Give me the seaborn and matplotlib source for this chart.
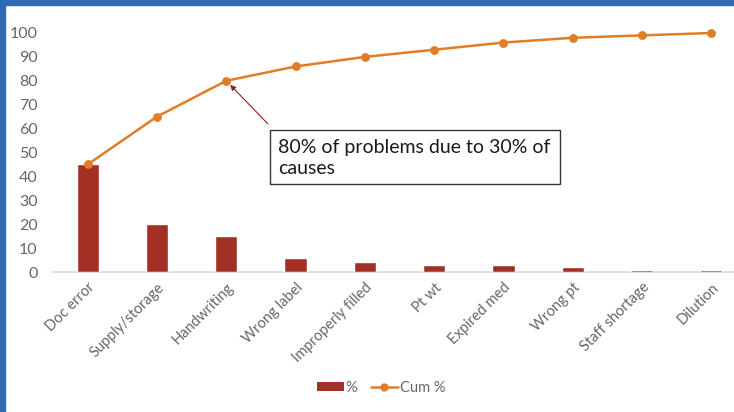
import matplotlib
matplotlib.use("Agg")
import matplotlib.pyplot as plt
import seaborn as sns
import pandas as pd
from matplotlib.patches import Patch, Rectangle
from matplotlib.lines import Line2D

categories = ["Doc error", "Supply/storage", "Handwriting", "Wrong label", "Improperly filled",
              "Pt wt", "Expired med", "Wrong pt", "Staff shortage", "Dilution"]
pct = [45, 20, 15, 6, 4, 3, 3, 2, 1, 1]
cum_pct = [45, 65, 80, 86, 90, 93, 96, 98, 99, 100]
yticks = [0, 10, 20, 30, 40, 50, 60, 70, 80, 90, 100]

sns.set_theme(style="white")
plt.rcParams['font.family'] = ['Lato', 'DejaVu Sans']

BAR = "#A33025"
LINE = "#E07D27"
GRAY = "#666666"

df = pd.DataFrame({"cat": categories, "pct": pct, "cum": cum_pct})

fig = plt.figure(figsize=(7.34, 4.12), dpi=100)
W, H = 734, 412
ax = fig.add_axes([53 / W, (H - 272) / H, (746 - 53) / W, (272 - 33) / H])

sns.barplot(data=df, x="cat", y="pct", color=BAR, width=0.32, saturation=1, ax=ax, zorder=3)
sns.pointplot(data=df, x="cat", y="cum", color=LINE, ax=ax, markersize=5, linewidth=1.8, zorder=4)
for coll in ax.collections:
    coll.set_clip_on(False)
for ln in ax.lines:
    ln.set_clip_on(False)

ax.set_xlim(-0.5, len(categories) - 0.5)
ax.set_ylim(0, 100)
ax.set_yticks(yticks)
ax.set_yticklabels([str(v) for v in yticks])
ax.set_xlabel("")
ax.set_ylabel("")
for s in ["top", "right", "left"]:
    ax.spines[s].set_visible(False)
ax.spines["bottom"].set_color("#D9D9D9")
ax.spines["bottom"].set_linewidth(1.2)
ax.spines["bottom"].set_zorder(1)
ax.tick_params(axis="y", length=0, pad=11, labelsize=11.5, labelcolor=GRAY)
ax.tick_params(axis="x", length=0, pad=6, labelsize=10.5, labelcolor=GRAY)
plt.setp(ax.get_xticklabels(), rotation=45, ha="right", rotation_mode="anchor")
ax.patch.set_alpha(0)

# annotation box
fig.text(278 / W, 1 - 158 / H, "80% of problems due to 30% of\ncauses", fontsize=14,
         color="#1a1a1a", va="center", ha="left", linespacing=1.25)
fig.patches.append(Rectangle((270 / W, 1 - 184 / H), (560 - 270) / W, (184 - 130) / H,
                             transform=fig.transFigure, fill=False, edgecolor="#333333",
                             linewidth=1.0))
ax.annotate("", xy=(2, 80), xytext=(268 / W, 1 - 124 / H), textcoords="figure fraction",
            xycoords="data",
            arrowprops=dict(arrowstyle="-|>", color="#8B2520", lw=0.8, mutation_scale=8,
                            shrinkA=0, shrinkB=4))

handles = [Patch(facecolor=BAR, edgecolor="none"),
           Line2D([0], [0], color=LINE, marker="o", markersize=5, linewidth=1.8)]
leg = fig.legend(handles, ["%", "Cum %"], loc="center", bbox_to_anchor=(381 / W, 1 - 388 / H),
                 ncol=2, frameon=False, fontsize=10.5, handlelength=1.9, handletextpad=0.1,
                 columnspacing=0.9, labelcolor=GRAY, handleheight=0.6)

# blue border strips
fig.patches.append(Rectangle((0, 1 - 5 / H), 1, 5 / H, transform=fig.transFigure,
                             color="#2E6AB1", zorder=10))
fig.patches.append(Rectangle((0, 0), 5 / W, 1, transform=fig.transFigure,
                             color="#2E6AB1", zorder=10))

fig.savefig("out.png", dpi=100)
